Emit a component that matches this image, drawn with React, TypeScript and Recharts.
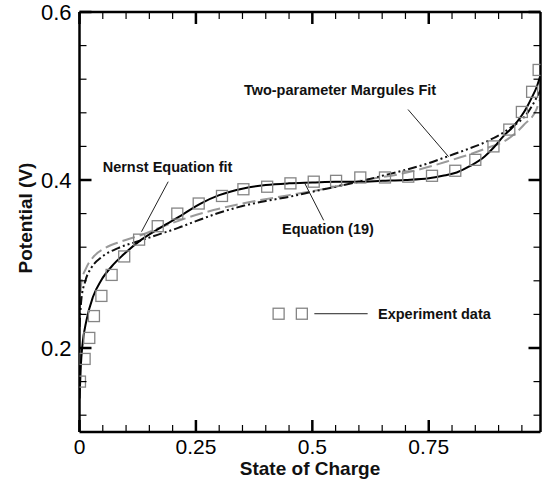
import { ComposedChart, Line, Scatter, XAxis, YAxis, ReferenceLine, ReferenceDot, Label } from 'recharts';

const FONT = '"Liberation Sans", Arial, Helvetica, sans-serif';

// axis ticks
const xTicks = [0, 0.05, 0.1, 0.15, 0.2, 0.25, 0.3, 0.35, 0.4, 0.45, 0.5, 0.55, 0.6, 0.65, 0.7, 0.75, 0.8, 0.85, 0.9, 0.95];
const xMajor = [0, 0.25, 0.5, 0.75];
const yTicks = [0.12, 0.16, 0.2, 0.24, 0.28, 0.32, 0.36, 0.4, 0.44, 0.48, 0.52, 0.56, 0.6];
const yMajor = [0.2, 0.4, 0.6];

// experiment data (state of charge, potential)
const experiment = [
    [0.001, 0.160], [0.011, 0.187], [0.021, 0.212], [0.031, 0.238], [0.047, 0.262],
    [0.069, 0.287], [0.096, 0.309], [0.128, 0.329], [0.168, 0.345], [0.210, 0.360],
    [0.256, 0.372], [0.306, 0.381], [0.352, 0.389], [0.403, 0.392], [0.453, 0.396],
    [0.503, 0.398], [0.551, 0.399], [0.603, 0.403], [0.656, 0.403], [0.706, 0.404],
    [0.757, 0.405], [0.807, 0.411], [0.850, 0.424], [0.889, 0.440], [0.923, 0.460],
    [0.950, 0.481], [0.972, 0.505], [0.986, 0.531],
];

// Equation (19), solid
const equation19 = [
    [0.0, 0.14], [0.003, 0.18], [0.006, 0.202], [0.015, 0.233], [0.029, 0.261], [0.047, 0.281],
    [0.069, 0.297], [0.098, 0.313], [0.133, 0.329], [0.176, 0.344], [0.219, 0.358], [0.26, 0.372],
    [0.30, 0.382], [0.352, 0.390], [0.40, 0.394], [0.45, 0.396], [0.50, 0.397], [0.55, 0.398],
    [0.60, 0.398], [0.65, 0.399], [0.70, 0.400], [0.75, 0.402], [0.78, 0.405], [0.81, 0.409],
    [0.84, 0.417], [0.87, 0.428], [0.89, 0.439], [0.91, 0.452], [0.932, 0.464], [0.95, 0.477],
    [0.961, 0.487], [0.972, 0.499], [0.982, 0.511], [0.99, 0.525],
];

// two-parameter Margules fit, dash-dot-dot
const margules = [
    [0.0, 0.225], [0.004, 0.258], [0.012, 0.279], [0.026, 0.296], [0.047, 0.308], [0.083, 0.319],
    [0.126, 0.327], [0.169, 0.335], [0.212, 0.343], [0.25, 0.351], [0.30, 0.361], [0.35, 0.369],
    [0.40, 0.375], [0.45, 0.380], [0.50, 0.386], [0.55, 0.392], [0.60, 0.398], [0.65, 0.405],
    [0.70, 0.412], [0.75, 0.420], [0.79, 0.428], [0.83, 0.436], [0.875, 0.446], [0.925, 0.462],
    [0.961, 0.479], [0.99, 0.507],
];

// Nernst equation fit, gray dashes
const nernst = [
    [0.0, 0.245], [0.004, 0.278], [0.015, 0.296], [0.029, 0.308], [0.055, 0.319], [0.09, 0.327],
    [0.133, 0.3345], [0.176, 0.344], [0.226, 0.354], [0.273, 0.362], [0.35, 0.372], [0.45, 0.382],
    [0.55, 0.392], [0.603, 0.399], [0.696, 0.408], [0.789, 0.422], [0.875, 0.438], [0.918, 0.448],
    [0.954, 0.4655], [0.982, 0.485], [0.99, 0.498],
];

// annotations: text anchor, leader line
const notes = [
    { text: 'Two-parameter Margules Fit', at: [0.353, 0.5068], leader: [[0.7055, 0.4839], [0.7925, 0.4278]] },
    { text: 'Nernst Equation fit', at: [0.0498, 0.4155], leader: [[0.1905, 0.398], [0.1332, 0.3385]] },
    { text: 'Equation (19)', at: [0.435, 0.3417], leader: [[0.4835, 0.3964], [0.5243, 0.352]] },
];
const legendSquares = [[0.4276, 0.2408], [0.4775, 0.2408]];
const legendLine = [[0.5043, 0.2408], [0.6188, 0.2408]];
const legendText = { text: 'Experiment data', at: [0.641, 0.2408] };

const toPts = (arr: number[][]) => arr.map(([x, v]) => ({ x, v }));

const isMajor = (v: number, majors: number[]) => majors.some((m) => Math.abs(m - v) < 1e-6);

const BottomTick = ({ x, y, payload }: any) => {
    const major = isMajor(payload.value, xMajor);
    return (
        <g>
            <line x1={x} x2={x} y1={y} y2={y - (major ? 12 : 7)} stroke="#000" strokeWidth={major ? 2.5 : 1.2} />
            {major && (
                <text x={x} y={y + 22} textAnchor="middle" fontSize={21} fontFamily={FONT} fill="#000">
                    {String(payload.value)}
                </text>
            )}
        </g>
    );
};

const TopTick = ({ x, y, payload }: any) => {
    const major = isMajor(payload.value, xMajor);
    return <line x1={x} x2={x} y1={y} y2={y + (major ? 12 : 7)} stroke="#000" strokeWidth={major ? 2.5 : 1.2} />;
};

const LeftTick = ({ x, y, payload }: any) => {
    const major = isMajor(payload.value, yMajor);
    return (
        <g>
            <line x1={x} x2={x + (major ? 12 : 7)} y1={y} y2={y} stroke="#000" strokeWidth={major ? 2.5 : 1.2} />
            {major && (
                <text x={x - 8} y={y + 8} textAnchor="end" fontSize={22} fontFamily={FONT} fill="#000">
                    {String(payload.value)}
                </text>
            )}
        </g>
    );
};

const RightTick = ({ x, y, payload }: any) => {
    const major = isMajor(payload.value, yMajor);
    return <line x1={x} x2={x - (major ? 12 : 7)} y1={y} y2={y} stroke="#000" strokeWidth={major ? 2.5 : 1.2} />;
};

const HollowSquare = ({ cx, cy }: any) => (
    <rect x={cx - 5.5} y={cy - 5.5} width={11} height={11} fill="none" stroke="#858585" strokeWidth={1.3} />
);

const NoteText = (text: string) => ({ cx, cy }: any) => (
    <text x={cx} y={cy + 5} fontSize={14.5} fontWeight="bold" fontFamily={FONT} fill="#111">
        {text}
    </text>
);

const XTitle = ({ viewBox }: any) => (
    <text x={viewBox.x + viewBox.width / 2} y={viewBox.y + viewBox.height - 4} textAnchor="middle" fontSize={19} fontWeight="bold" fontFamily={FONT} fill="#111">
        State of Charge
    </text>
);

const YTitle = ({ viewBox }: any) => {
    const cx = 32;
    const cy = viewBox.y + viewBox.height / 2 - 4;
    return (
        <text x={cx} y={cy} transform={`rotate(-90, ${cx}, ${cy})`} textAnchor="middle" fontSize={19} fontWeight="bold" fontFamily={FONT} fill="#111">
            Potential (V)
        </text>
    );
};

export default function App() {
    return (
        <div style={{ position: 'absolute', left: 0, top: 0, width: 542, height: 479, background: '#fff' }}>
            <ComposedChart width={542} height={479} margin={{ top: 11, right: 0.5, bottom: 0, left: 0 }}>
                <XAxis
                    type="number"
                    dataKey="x"
                    domain={[0, 0.99]}
                    allowDataOverflow
                    ticks={xTicks}
                    interval={0}
                    height={47}
                    tickSize={0}
                    tickMargin={0}
                    tickLine={false}
                    tick={<BottomTick />}
                    axisLine={{ stroke: '#000', strokeWidth: 2.5 }}
                >
                    <Label content={<XTitle />} />
                </XAxis>
                <XAxis
                    xAxisId="top"
                    orientation="top"
                    type="number"
                    dataKey="x"
                    domain={[0, 0.99]}
                    allowDataOverflow
                    ticks={xTicks}
                    interval={0}
                    height={1}
                    tickSize={0}
                    tickMargin={0}
                    tickLine={false}
                    tick={<TopTick />}
                    axisLine={{ stroke: '#000', strokeWidth: 2.5 }}
                />
                <YAxis
                    type="number"
                    domain={[0.1, 0.6]}
                    allowDataOverflow
                    ticks={yTicks}
                    interval={0}
                    width={79.5}
                    tickSize={0}
                    tickMargin={0}
                    tickLine={false}
                    tick={<LeftTick />}
                    axisLine={{ stroke: '#000', strokeWidth: 2.5 }}
                >
                    <Label content={<YTitle />} />
                </YAxis>
                <YAxis
                    yAxisId="right"
                    orientation="right"
                    type="number"
                    domain={[0.1, 0.6]}
                    allowDataOverflow
                    ticks={yTicks}
                    interval={0}
                    width={1}
                    tickSize={0}
                    tickMargin={0}
                    tickLine={false}
                    tick={<RightTick />}
                    axisLine={{ stroke: '#000', strokeWidth: 2.5 }}
                />

                <Scatter data={toPts(experiment)} dataKey="v" shape={<HollowSquare />} isAnimationActive={false} />
                <Scatter data={toPts(legendSquares)} dataKey="v" shape={<HollowSquare />} isAnimationActive={false} />

                <Line data={toPts(nernst)} dataKey="v" type="monotone" stroke="#9a9a9a" strokeWidth={2} strokeDasharray="13 5" dot={false} activeDot={false} isAnimationActive={false} />
                <Line data={toPts(margules)} dataKey="v" type="monotone" stroke="#111" strokeWidth={2} strokeDasharray="9 3 2 3 2 3" dot={false} activeDot={false} isAnimationActive={false} />
                <Line data={toPts(equation19)} dataKey="v" type="monotone" stroke="#000" strokeWidth={2} dot={false} activeDot={false} isAnimationActive={false} />

                {notes.map((n) => (
                    <ReferenceLine
                        key={n.text + '-line'}
                        segment={[{ x: n.leader[0][0], y: n.leader[0][1] }, { x: n.leader[1][0], y: n.leader[1][1] }]}
                        stroke="#222"
                        strokeWidth={1}
                    />
                ))}
                {notes.map((n) => (
                    <ReferenceDot key={n.text} x={n.at[0]} y={n.at[1]} r={0} shape={NoteText(n.text)} />
                ))}
                <ReferenceLine
                    segment={[{ x: legendLine[0][0], y: legendLine[0][1] }, { x: legendLine[1][0], y: legendLine[1][1] }]}
                    stroke="#222"
                    strokeWidth={1}
                />
                <ReferenceDot x={legendText.at[0]} y={legendText.at[1]} r={0} shape={NoteText(legendText.text)} />
            </ComposedChart>
        </div>
    );
}
